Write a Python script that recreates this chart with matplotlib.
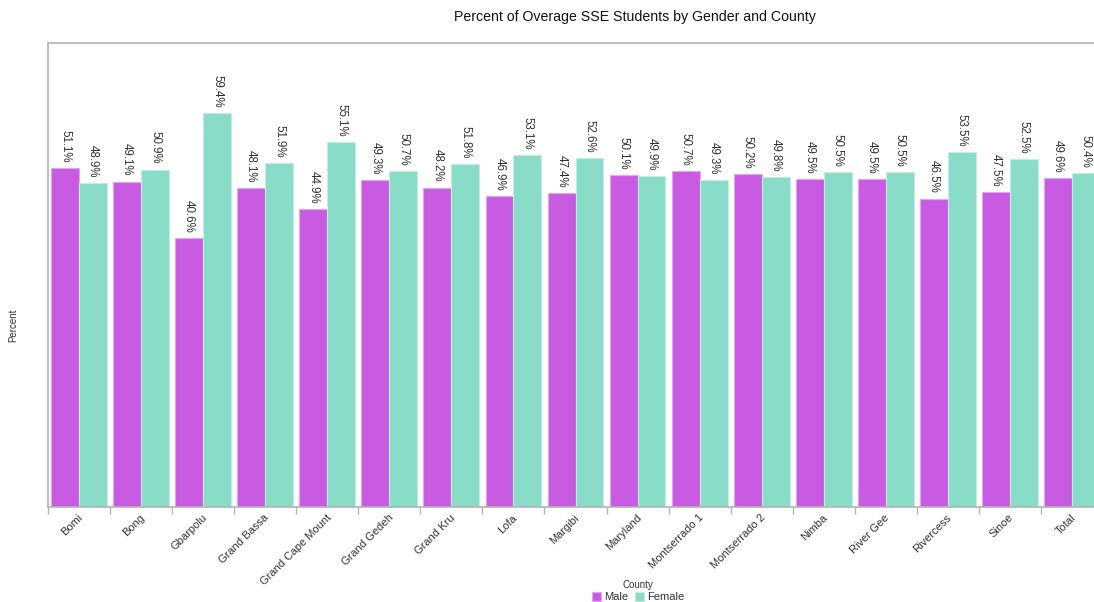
import matplotlib
matplotlib.use("Agg")
import matplotlib.pyplot as plt
import numpy as np

plt.rcParams['font.family'] = ['Liberation Sans', 'DejaVu Sans']

counties = ["Bomi", "Bong", "Gbarpolu", "Grand Bassa", "Grand Cape Mount",
            "Grand Gedeh", "Grand Kru", "Lofa", "Margibi", "Maryland",
            "Montserrado 1", "Montserrado 2", "Nimba", "River Gee",
            "Rivercess", "Sinoe", "Total"]
male = [51.1, 49.1, 40.6, 48.1, 44.9, 49.3, 48.2, 46.9, 47.4, 50.1,
        50.7, 50.2, 49.5, 49.5, 46.5, 47.5, 49.6]
female = [48.9, 50.9, 59.4, 51.9, 55.1, 50.7, 51.8, 53.1, 52.6, 49.9,
          49.3, 49.8, 50.5, 50.5, 53.5, 52.5, 50.4]

male_color = "#c95be3"
female_color = "#88dcc8"
text_color = "#333333"
grid_gray = "#b3b3b3"

W, H = 1094, 602
fig = plt.figure(figsize=(W / 100, H / 100), dpi=100)
ax = fig.add_axes([48 / W, 1 - 507 / H, (1103 - 48) / W, (507 - 43) / H])

x = np.arange(len(counties))
bw = 0.45
bm = ax.bar(x - bw / 2, male, width=bw, color=male_color,
            edgecolor="#e3a6f1", linewidth=0.8, label="Male")
bf = ax.bar(x + bw / 2, female, width=bw, color=female_color,
            edgecolor="#c4eee3", linewidth=0.8, label="Female")

for bars, vals in ((bm, male), (bf, female)):
    for b, v in zip(bars, vals):
        ax.annotate(f"{v:.1f}%", (b.get_x() + b.get_width() / 2, v),
                    xytext=(0, 4), textcoords="offset points",
                    rotation=270, ha="center", va="bottom",
                    fontsize=8.3, color=text_color)

ax.set_xlim(-0.5, len(counties) - 0.5)
ax.set_ylim(0, 70)
ax.set_yticks([])

# category boundaries carry the tick marks, names sit under each group
ax.set_xticks(np.arange(len(counties) + 1) - 0.5, minor=False)
ax.set_xticklabels([])
ax.tick_params(axis="x", length=5, width=1, color=grid_gray)
for i, name in enumerate(counties):
    ax.annotate(name, (i, 0), xytext=(-1, -4), textcoords="offset points",
                rotation=45, ha="right", va="top", rotation_mode="anchor",
                fontsize=8, color=text_color, annotation_clip=False)

for side in ("left", "top", "bottom", "right"):
    ax.spines[side].set_color(grid_gray)
    ax.spines[side].set_linewidth(1.2)

fig.text(635 / W, 1 - 17 / H, "Percent of Overage SSE Students by Gender and County",
         ha="center", va="center", fontsize=10.2, color="#111111")
fig.text(13 / W, 1 - 325 / H, "Percent", rotation=90, ha="center", va="center",
         fontsize=7, color=text_color)

leg = fig.legend(handles=[bm, bf], labels=["Male", "Female"], title="County",
                 loc="center", bbox_to_anchor=(638 / W, 1 - 591 / H),
                 ncol=2, frameon=False, fontsize=8, title_fontsize=7,
                 handlelength=0.8, handleheight=0.8, handletextpad=0.3,
                 columnspacing=0.6, borderpad=0, labelspacing=0)
leg._legend_box.sep = 2
for t in leg.get_texts():
    t.set_color(text_color)
leg.get_title().set_color(text_color)

fig.savefig("out.png", dpi=100)
